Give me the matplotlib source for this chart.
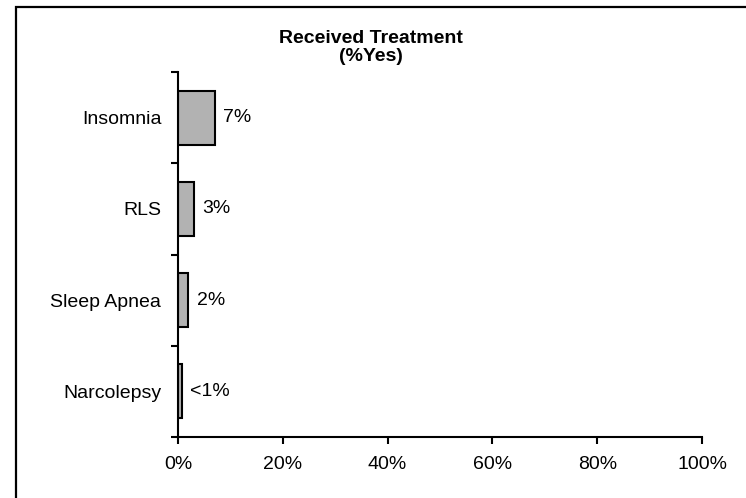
import matplotlib
matplotlib.use("Agg")
import matplotlib.pyplot as plt
from matplotlib.patches import Rectangle
from matplotlib.ticker import FixedLocator, PercentFormatter

plt.rcParams['font.family'] = ['Liberation Sans', 'DejaVu Sans']

# treatment rates, bottom to top
categories = ['Narcolepsy', 'Sleep Apnea', 'RLS', 'Insomnia']
pct_yes = [0.7, 2, 3, 7]
value_labels = ['<1%', '2%', '3%', '7%']
x_ticks = [0, 20, 40, 60, 80, 100]

fig = plt.figure(figsize=(7.46, 4.98), dpi=100)
ax = fig.add_axes([0.2386, 0.1225, 0.7025, 0.7329])

pos = [i + 0.5 for i in range(len(categories))]
bars = ax.barh(pos, pct_yes, height=0.59, color='#b2b2b2',
               edgecolor='black', linewidth=1.5)

for b, lab in zip(bars, value_labels):
    ax.annotate(lab, (b.get_width(), b.get_y() + b.get_height() / 2),
                xytext=(6, 0), textcoords='offset points',
                va='center', ha='left', fontsize=14)

ax.set_xlim(0, 100)
ax.set_ylim(0, len(categories))
ax.set_xticks(x_ticks)
ax.xaxis.set_major_formatter(PercentFormatter(decimals=0))

# boundary ticks between categories, names on minor ticks
ax.set_yticks(range(len(categories) + 1))
ax.set_yticklabels([])
ax.yaxis.set_minor_locator(FixedLocator(pos))
ax.set_yticklabels(categories, minor=True)
ax.tick_params(axis='y', which='minor', length=0, pad=12, labelsize=14)
ax.tick_params(axis='y', which='major', length=5, width=1.5)
ax.tick_params(axis='x', length=5, width=1.5, pad=9, labelsize=14)

for s in ['top', 'right']:
    ax.spines[s].set_visible(False)
for s in ['left', 'bottom']:
    ax.spines[s].set_linewidth(1.5)

fig.text(0.497, 0.905, 'Received Treatment\n(%Yes)', ha='center', va='center',
         fontsize=14, fontweight='bold', linespacing=1.1)

# chart area frame
fig.patches.append(Rectangle((0.022, -0.2), 1.2, 1.186, transform=fig.transFigure,
                             fill=False, edgecolor='black', linewidth=1.6))

fig.savefig('out.png', dpi=100)
